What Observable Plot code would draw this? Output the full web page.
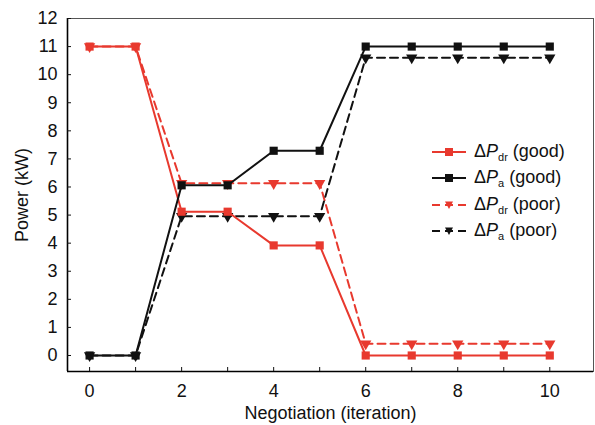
<!DOCTYPE html>
<html>
<head>
<meta charset="utf-8">
<script src="https://cdn.jsdelivr.net/npm/d3@7"></script>
<script src="https://cdn.jsdelivr.net/npm/@observablehq/plot@0.6"></script>
<style>
  html, body { margin: 0; padding: 0; background: #fff; }
  #wrap { position: relative; width: 595px; height: 425px; font-family: "Liberation Sans", Arial, sans-serif; }
  #legend { position: absolute; left: 431px; top: 139px; font-size: 18px; color: #111; }
  .row { display: flex; align-items: center; height: 26.3px; }
  .row svg { margin-right: 7px; }
  sub { font-size: 11px; vertical-align: -4px; }
</style>
</head>
<body>
<div id="wrap"></div>
<script>
const iterations = [0, 1, 2, 3, 4, 5, 6, 7, 8, 9, 10];
const pdrGood = [11, 11, 5.12, 5.12, 3.92, 3.92, 0, 0, 0, 0, 0];
const paGood  = [0, 0, 6.06, 6.06, 7.29, 7.29, 11, 11, 11, 11, 11];
const pdrPoor = [11, 11, 6.13, 6.13, 6.13, 6.13, 0.42, 0.42, 0.42, 0.42, 0.42];
const paPoor  = [0, 0, 4.96, 4.96, 4.96, 4.96, 10.6, 10.6, 10.6, 10.6, 10.6];
const seriesNames = ["ΔPdr (good)", "ΔPa (good)", "ΔPdr (poor)", "ΔPa (poor)"];
const xTicks = [0, 1, 2, 3, 4, 5, 6, 7, 8, 9, 10];
const xLabels = [0, 2, 4, 6, 8, 10];
const yTicks = [0, 1, 2, 3, 4, 5, 6, 7, 8, 9, 10, 11, 12];

const red = "#e8392e";
const black = "#111";
const series = [
  {name: seriesNames[0], values: pdrGood, color: red, dash: null, symbol: "square"},
  {name: seriesNames[1], values: paGood, color: black, dash: null, symbol: "square"},
  {name: seriesNames[2], values: pdrPoor, color: red, dash: "8,5", symbol: "triangle"},
  {name: seriesNames[3], values: paPoor, color: black, dash: "8,5", symbol: "triangle"}
];

const xDomain = [-0.48, 10.95];
const yDomain = [-0.57, 12];

const marks = [
  Plot.frame({stroke: "#555", strokeWidth: 1}),
  Plot.ruleX([xDomain[0]], {stroke: "#000", strokeWidth: 1.6}),
  Plot.ruleY([yDomain[0]], {stroke: "#000", strokeWidth: 1.6}),
  Plot.axisX(xTicks, {tickSize: -4, tickFormat: () => "", label: null}),
  Plot.axisX(xLabels, {tickSize: 0, tickPadding: 13, fontSize: 18, fill: "#111",
    label: "Negotiation (iteration)", labelArrow: "none", labelAnchor: "center", labelOffset: 47}),
  Plot.axisY(yTicks, {tickSize: -4, tickPadding: 14, fontSize: 18, fill: "#111",
    label: "Power (kW)", labelArrow: "none", labelAnchor: "center", labelOffset: 52})
];

// draw "poor" series first so the "good" squares sit on top, as in the reference
for (const s of [series[2], series[3], series[0], series[1]]) {
  const data = iterations.map((x, i) => ({x, y: s.values[i]}));
  marks.push(Plot.line(data, {x: "x", y: "y", stroke: s.color, strokeWidth: 2, strokeDasharray: s.dash || undefined}));
  if (s.symbol === "square") {
    marks.push(Plot.dot(data, {x: "x", y: "y", symbol: "square", r: 4.6, fill: s.color, stroke: "none"}));
  } else {
    marks.push(Plot.dot(data, {x: "x", y: "y", symbol: "triangle", r: 4.2, rotate: 180, fill: s.color, stroke: "none"}));
  }
}

const chart = Plot.plot({
  width: 595,
  height: 425,
  marginLeft: 67,
  marginRight: 2,
  marginTop: 18,
  marginBottom: 54,
  style: {fontFamily: "'Liberation Sans', Arial, sans-serif", fontSize: "18px", color: "#111", background: "white"},
  x: {domain: xDomain},
  y: {domain: yDomain},
  marks
});
const wrap = document.getElementById("wrap");
wrap.appendChild(chart);

// Legend overlay
const legend = document.createElement("div");
legend.id = "legend";
for (const s of series) {
  const row = document.createElement("div");
  row.className = "row";
  const svg = d3.create("svg").attr("width", 36).attr("height", 12);
  svg.append("line").attr("x1", 1).attr("x2", 35).attr("y1", 6).attr("y2", 6)
    .attr("stroke", s.color).attr("stroke-width", 2).attr("stroke-dasharray", s.dash ? "8,5" : null);
  if (s.symbol === "square") {
    svg.append("rect").attr("x", 14).attr("y", 2).attr("width", 8).attr("height", 8).attr("fill", s.color);
  } else {
    svg.append("path").attr("d", "M14,2.5L22,2.5L18,10Z").attr("fill", s.color);
  }
  row.appendChild(svg.node());
  const m = s.name.match(/^Δ(P)(\w+) (.*)$/);
  const label = document.createElement("span");
  label.innerHTML = `Δ<i>${m[1]}</i><sub>${m[2]}</sub> ${m[3]}`;
  row.appendChild(label);
  legend.appendChild(row);
}
wrap.appendChild(legend);
</script>
</body>
</html>
